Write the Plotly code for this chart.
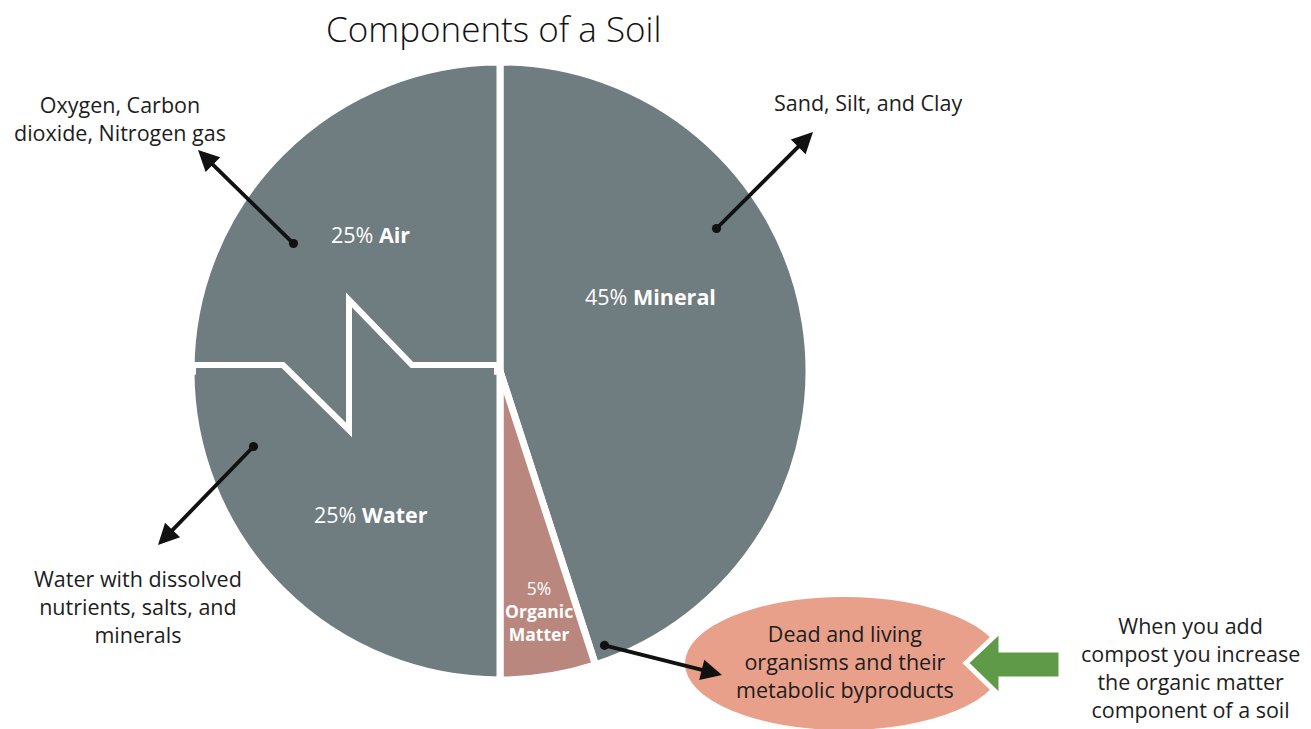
import plotly.graph_objects as go

W, H = 1311, 729

# ---- data ----
components = ["Mineral", "Organic Matter", "Water", "Air"]
percent = [45, 5, 25, 25]
slice_colors = ["#6f7c80", "#b9877e", "#6f7c80", "#6f7c80"]
descriptions = {
    "Air": "Oxygen, Carbon<br>dioxide, Nitrogen gas",
    "Mineral": "Sand, Silt, and Clay",
    "Water": "Water with dissolved<br>nutrients, salts, and<br>minerals",
    "Organic Matter": "Dead and living<br>organisms and their<br>metabolic byproducts",
}
compost_note = "When you add<br>compost you increase<br>the organic matter<br>component of a soil"
title_text = "Components of a Soil"


def px(x, y):
    return x / W, 1 - y / H


# pie geometry (pixels)
cx, cy, r = 500, 371, 309
fig = go.Figure()
fig.add_trace(go.Pie(
    labels=components,
    values=percent,
    sort=False,
    direction="clockwise",
    rotation=0,
    marker=dict(colors=slice_colors, line=dict(color="white", width=7)),
    textinfo="none",
    hoverinfo="label+percent",
    domain=dict(x=[(cx - r) / W, (cx + r) / W], y=[1 - (cy + r) / H, 1 - (cy - r) / H]),
    showlegend=False,
))

shapes = []
# cover straight Air/Water border, then draw zigzag border
x0, y0 = px(196, cy - 6)
x1, y1 = px(494, cy + 6)
shapes.append(dict(type="rect", xref="paper", yref="paper", x0=x0, x1=x1, y0=y0, y1=y1,
                   fillcolor="#6f7c80", line=dict(width=0), layer="above"))
zig = [(190, cy - 6), (283, cy - 6), (349, cy + 59), (349, cy - 71), (412, cy - 6), (497, cy - 6)]
path = "M " + " L ".join(f"{px(x, y)[0]},{px(x, y)[1]}" for x, y in zig)
shapes.append(dict(type="path", xref="paper", yref="paper", path=path,
                   line=dict(color="white", width=6), layer="above"))

# ellipse
ex0, ey0 = px(685, 597)
ex1, ey1 = px(1003, 730)
shapes.append(dict(type="circle", xref="paper", yref="paper", x0=ex0, x1=ex1, y0=ey1, y1=ey0,
                   fillcolor="#e9a08a", line=dict(width=0), layer="above"))
# green block arrow
garrow = [(966, 663), (1001, 630), (1001, 650), (1061, 650), (1061, 679), (1001, 679), (1001, 697)]
gpath = "M " + " L ".join(f"{px(x, y)[0]},{px(x, y)[1]}" for x, y in garrow) + " Z"
shapes.append(dict(type="path", xref="paper", yref="paper", path=gpath,
                   fillcolor="#5e9a47", line=dict(color="white", width=5), layer="above"))

annotations = []
font_black = dict(family="Open Sans", size=21.5, color="#1d1d1d")
font_white = dict(family="Open Sans", size=21.5, color="white")


def text_at(x, y, text, font):
    ax_, ay_ = px(x, y)
    annotations.append(dict(x=ax_, y=ay_, xref="paper", yref="paper", text=text, showarrow=False,
                            font=font, align="center", xanchor="center", yanchor="middle"))


# title
text_at(493, 28, title_text, dict(family="Open Sans", size=35, color="#111111", weight=300))

# slice labels from data
label_pos = {"Air": (371, 234), "Mineral": (650, 296), "Water": (371, 514), "Organic Matter": (539, 611)}
for name, val in zip(components, percent):
    if name == "Organic Matter":
        txt = f"{val}%<br><b>Organic</b><br><b>Matter</b>"
        text_at(*label_pos[name], txt, dict(family="Open Sans", size=17.5, color="white"))
    else:
        txt = f"{val}% <b>{name}</b>"
        text_at(*label_pos[name], txt, font_white)

# descriptions
text_at(120, 118, descriptions["Air"], font_black)
text_at(868, 103, descriptions["Mineral"], font_black)
text_at(138, 606, descriptions["Water"], font_black)
text_at(845, 661, descriptions["Organic Matter"], font_black)
text_at(1190, 667, compost_note, font_black)

# black arrows: (tail, head)
arrows = [((295, 245), (198, 150)), ((715, 230), (813, 132)),
          ((255, 445), (158, 545)), ((603, 645), (722, 675))]
for (tx, ty), (hx, hy) in arrows:
    hxp, hyp = px(hx, hy)
    annotations.append(dict(x=hxp, y=hyp, xref="paper", yref="paper", text="", showarrow=True,
                            ax=tx - hx, ay=ty - hy, arrowhead=2, arrowsize=1.1, arrowwidth=3.8,
                            arrowcolor="#111111", arrowside="end+start", startarrowhead=6,
                            startarrowsize=0.6, standoff=0, startstandoff=0))

fig.update_layout(width=W, height=H, margin=dict(l=0, r=0, t=0, b=0),
                  paper_bgcolor="white", plot_bgcolor="white",
                  shapes=shapes, annotations=annotations, showlegend=False)

fig.write_html("out.html", config={"displayModeBar": False},
               post_script="document.body.style.margin='0';")
